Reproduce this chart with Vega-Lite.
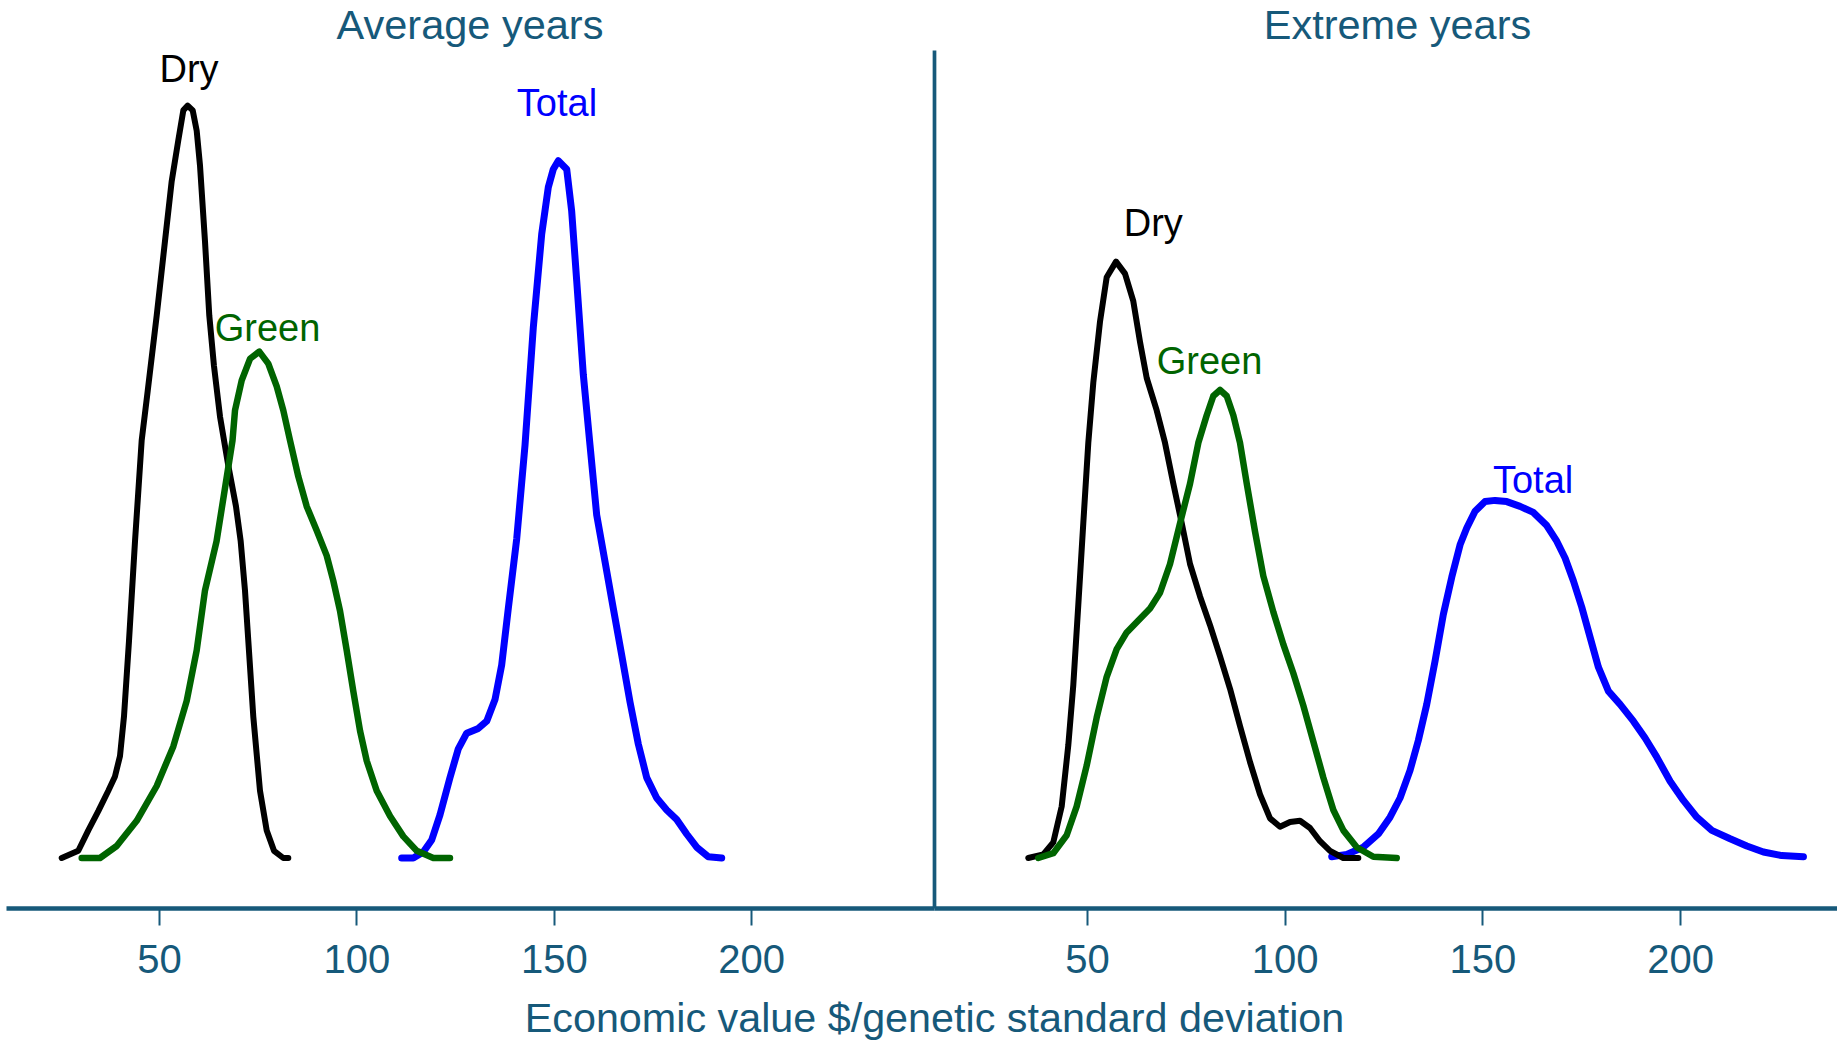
{
  "$schema": "https://vega.github.io/schema/vega-lite/v6.json",
  "padding": {"left": 6, "top": 5, "right": 0, "bottom": 0},
  "bounds": "flush",
  "spacing": 0,
  "config": {
    "view": {"stroke": null},
    "font": "Liberation Sans",
    "title": {
      "font": "Liberation Sans",
      "fontSize": 41.5,
      "fontWeight": "normal",
      "color": "#16597a",
      "anchor": "middle",
      "baseline": "alphabetic",
      "offset": 3
    },
    "axis": {
      "grid": false,
      "domainColor": "#16597a",
      "tickColor": "#16597a",
      "labelColor": "#16597a",
      "titleColor": "#16597a",
      "labelFont": "Liberation Sans",
      "titleFont": "Liberation Sans",
      "titleFontWeight": "normal"
    }
  },
  "datasets": {
    "curves": [
      {"panel": "Average", "series": "Dry", "value": 25.39, "density": 0},
      {"panel": "Average", "series": "Dry", "value": 29.59, "density": 0.0006},
      {"panel": "Average", "series": "Dry", "value": 32.12, "density": 0.0023},
      {"panel": "Average", "series": "Dry", "value": 34.65, "density": 0.0039},
      {"panel": "Average", "series": "Dry", "value": 37.19, "density": 0.0056},
      {"panel": "Average", "series": "Dry", "value": 38.88, "density": 0.0068},
      {"panel": "Average", "series": "Dry", "value": 40.15, "density": 0.0085},
      {"panel": "Average", "series": "Dry", "value": 41.16, "density": 0.0118},
      {"panel": "Average", "series": "Dry", "value": 42.43, "density": 0.0181},
      {"panel": "Average", "series": "Dry", "value": 43.95, "density": 0.0264},
      {"panel": "Average", "series": "Dry", "value": 45.64, "density": 0.0348},
      {"panel": "Average", "series": "Dry", "value": 47.16, "density": 0.0389},
      {"panel": "Average", "series": "Dry", "value": 49.44, "density": 0.0452},
      {"panel": "Average", "series": "Dry", "value": 51.54, "density": 0.0514},
      {"panel": "Average", "series": "Dry", "value": 53.24, "density": 0.0564},
      {"panel": "Average", "series": "Dry", "value": 54.91, "density": 0.0598},
      {"panel": "Average", "series": "Dry", "value": 56.18, "density": 0.0623},
      {"panel": "Average", "series": "Dry", "value": 57.29, "density": 0.0627},
      {"panel": "Average", "series": "Dry", "value": 58.56, "density": 0.0623},
      {"panel": "Average", "series": "Dry", "value": 59.57, "density": 0.0606},
      {"panel": "Average", "series": "Dry", "value": 60.41, "density": 0.0577},
      {"panel": "Average", "series": "Dry", "value": 61.67, "density": 0.0514},
      {"panel": "Average", "series": "Dry", "value": 62.76, "density": 0.0452},
      {"panel": "Average", "series": "Dry", "value": 63.95, "density": 0.041},
      {"panel": "Average", "series": "Dry", "value": 65.47, "density": 0.0368},
      {"panel": "Average", "series": "Dry", "value": 67.57, "density": 0.0327},
      {"panel": "Average", "series": "Dry", "value": 69.52, "density": 0.0293},
      {"panel": "Average", "series": "Dry", "value": 70.71, "density": 0.0264},
      {"panel": "Average", "series": "Dry", "value": 71.8, "density": 0.0223},
      {"panel": "Average", "series": "Dry", "value": 72.64, "density": 0.0181},
      {"panel": "Average", "series": "Dry", "value": 73.9, "density": 0.0118},
      {"panel": "Average", "series": "Dry", "value": 75.6, "density": 0.0056},
      {"panel": "Average", "series": "Dry", "value": 77.3, "density": 0.0023},
      {"panel": "Average", "series": "Dry", "value": 79.15, "density": 0.0006},
      {"panel": "Average", "series": "Dry", "value": 81.5, "density": 0},
      {"panel": "Average", "series": "Dry", "value": 82.77, "density": 0},

      {"panel": "Average", "series": "Green", "value": 30.45, "density": 0},
      {"panel": "Average", "series": "Green", "value": 35.08, "density": 0},
      {"panel": "Average", "series": "Green", "value": 39.31, "density": 0.001},
      {"panel": "Average", "series": "Green", "value": 44.38, "density": 0.0031},
      {"panel": "Average", "series": "Green", "value": 49.44, "density": 0.006},
      {"panel": "Average", "series": "Green", "value": 53.65, "density": 0.0093},
      {"panel": "Average", "series": "Green", "value": 57.04, "density": 0.0131},
      {"panel": "Average", "series": "Green", "value": 59.57, "density": 0.0173},
      {"panel": "Average", "series": "Green", "value": 61.67, "density": 0.0223},
      {"panel": "Average", "series": "Green", "value": 64.6, "density": 0.0264},
      {"panel": "Average", "series": "Green", "value": 66.63, "density": 0.0306},
      {"panel": "Average", "series": "Green", "value": 68.64, "density": 0.0348},
      {"panel": "Average", "series": "Green", "value": 69.27, "density": 0.0373},
      {"panel": "Average", "series": "Green", "value": 70.97, "density": 0.0398},
      {"panel": "Average", "series": "Green", "value": 73.07, "density": 0.0416},
      {"panel": "Average", "series": "Green", "value": 75.42, "density": 0.0422},
      {"panel": "Average", "series": "Green", "value": 77.7, "density": 0.0412},
      {"panel": "Average", "series": "Green", "value": 79.83, "density": 0.0393},
      {"panel": "Average", "series": "Green", "value": 81.5, "density": 0.0373},
      {"panel": "Average", "series": "Green", "value": 83.2, "density": 0.0348},
      {"panel": "Average", "series": "Green", "value": 85.3, "density": 0.0318},
      {"panel": "Average", "series": "Green", "value": 87.43, "density": 0.0293},
      {"panel": "Average", "series": "Green", "value": 89.96, "density": 0.0273},
      {"panel": "Average", "series": "Green", "value": 92.49, "density": 0.0252},
      {"panel": "Average", "series": "Green", "value": 94.16, "density": 0.0231},
      {"panel": "Average", "series": "Green", "value": 95.86, "density": 0.0206},
      {"panel": "Average", "series": "Green", "value": 97.56, "density": 0.0173},
      {"panel": "Average", "series": "Green", "value": 99.23, "density": 0.0139},
      {"panel": "Average", "series": "Green", "value": 100.93, "density": 0.0106},
      {"panel": "Average", "series": "Green", "value": 102.62, "density": 0.0081},
      {"panel": "Average", "series": "Green", "value": 105.15, "density": 0.0056},
      {"panel": "Average", "series": "Green", "value": 108.52, "density": 0.0035},
      {"panel": "Average", "series": "Green", "value": 111.89, "density": 0.0018},
      {"panel": "Average", "series": "Green", "value": 115.28, "density": 0.0006},
      {"panel": "Average", "series": "Green", "value": 119.49, "density": 0},
      {"panel": "Average", "series": "Green", "value": 123.71, "density": 0},

      {"panel": "Average", "series": "Total", "value": 111.48, "density": 0},
      {"panel": "Average", "series": "Total", "value": 114.42, "density": 0},
      {"panel": "Average", "series": "Total", "value": 116.95, "density": 0.0005},
      {"panel": "Average", "series": "Total", "value": 119.08, "density": 0.0015},
      {"panel": "Average", "series": "Total", "value": 121.18, "density": 0.0036},
      {"panel": "Average", "series": "Total", "value": 123.71, "density": 0.0067},
      {"panel": "Average", "series": "Total", "value": 125.82, "density": 0.0091},
      {"panel": "Average", "series": "Total", "value": 127.94, "density": 0.0104},
      {"panel": "Average", "series": "Total", "value": 130.88, "density": 0.0108},
      {"panel": "Average", "series": "Total", "value": 133.01, "density": 0.0114},
      {"panel": "Average", "series": "Total", "value": 135.11, "density": 0.0132},
      {"panel": "Average", "series": "Total", "value": 136.81, "density": 0.0161},
      {"panel": "Average", "series": "Total", "value": 138.48, "density": 0.0208},
      {"panel": "Average", "series": "Total", "value": 140.61, "density": 0.0266},
      {"panel": "Average", "series": "Total", "value": 142.71, "density": 0.0344},
      {"panel": "Average", "series": "Total", "value": 144.81, "density": 0.0442},
      {"panel": "Average", "series": "Total", "value": 146.94, "density": 0.052},
      {"panel": "Average", "series": "Total", "value": 148.61, "density": 0.0559},
      {"panel": "Average", "series": "Total", "value": 149.87, "density": 0.0574},
      {"panel": "Average", "series": "Total", "value": 151.14, "density": 0.0581},
      {"panel": "Average", "series": "Total", "value": 153.27, "density": 0.0574},
      {"panel": "Average", "series": "Total", "value": 154.53, "density": 0.0539},
      {"panel": "Average", "series": "Total", "value": 155.8, "density": 0.0481},
      {"panel": "Average", "series": "Total", "value": 157.47, "density": 0.0403},
      {"panel": "Average", "series": "Total", "value": 159.17, "density": 0.0344},
      {"panel": "Average", "series": "Total", "value": 160.86, "density": 0.0286},
      {"panel": "Average", "series": "Total", "value": 162.97, "density": 0.0247},
      {"panel": "Average", "series": "Total", "value": 165.07, "density": 0.0208},
      {"panel": "Average", "series": "Total", "value": 167.2, "density": 0.0169},
      {"panel": "Average", "series": "Total", "value": 169.3, "density": 0.013},
      {"panel": "Average", "series": "Total", "value": 171.4, "density": 0.0095},
      {"panel": "Average", "series": "Total", "value": 173.53, "density": 0.0067},
      {"panel": "Average", "series": "Total", "value": 176.06, "density": 0.005},
      {"panel": "Average", "series": "Total", "value": 178.59, "density": 0.004},
      {"panel": "Average", "series": "Total", "value": 181.12, "density": 0.0032},
      {"panel": "Average", "series": "Total", "value": 183.65, "density": 0.002},
      {"panel": "Average", "series": "Total", "value": 186.19, "density": 0.0009},
      {"panel": "Average", "series": "Total", "value": 189.12, "density": 0.0001},
      {"panel": "Average", "series": "Total", "value": 192.52, "density": 0},

      {"panel": "Extreme", "series": "Dry", "value": 35.15, "density": 0},
      {"panel": "Extreme", "series": "Dry", "value": 38.95, "density": 0.0003},
      {"panel": "Extreme", "series": "Dry", "value": 41.47, "density": 0.0013},
      {"panel": "Extreme", "series": "Dry", "value": 43.6, "density": 0.0043},
      {"panel": "Extreme", "series": "Dry", "value": 45.27, "density": 0.0094},
      {"panel": "Extreme", "series": "Dry", "value": 46.53, "density": 0.0144},
      {"panel": "Extreme", "series": "Dry", "value": 47.8, "density": 0.0211},
      {"panel": "Extreme", "series": "Dry", "value": 49.06, "density": 0.0279},
      {"panel": "Extreme", "series": "Dry", "value": 50.33, "density": 0.0346},
      {"panel": "Extreme", "series": "Dry", "value": 51.59, "density": 0.0396},
      {"panel": "Extreme", "series": "Dry", "value": 53.29, "density": 0.0447},
      {"panel": "Extreme", "series": "Dry", "value": 54.98, "density": 0.0484},
      {"panel": "Extreme", "series": "Dry", "value": 57.34, "density": 0.0497},
      {"panel": "Extreme", "series": "Dry", "value": 59.61, "density": 0.0487},
      {"panel": "Extreme", "series": "Dry", "value": 61.71, "density": 0.0464},
      {"panel": "Extreme", "series": "Dry", "value": 63.41, "density": 0.043},
      {"panel": "Extreme", "series": "Dry", "value": 65.1, "density": 0.04},
      {"panel": "Extreme", "series": "Dry", "value": 67.63, "density": 0.0373},
      {"panel": "Extreme", "series": "Dry", "value": 69.73, "density": 0.0346},
      {"panel": "Extreme", "series": "Dry", "value": 71.83, "density": 0.0312},
      {"panel": "Extreme", "series": "Dry", "value": 73.96, "density": 0.0279},
      {"panel": "Extreme", "series": "Dry", "value": 76.06, "density": 0.0245},
      {"panel": "Extreme", "series": "Dry", "value": 78.59, "density": 0.0218},
      {"panel": "Extreme", "series": "Dry", "value": 81.12, "density": 0.0194},
      {"panel": "Extreme", "series": "Dry", "value": 83.65, "density": 0.0168},
      {"panel": "Extreme", "series": "Dry", "value": 86.18, "density": 0.0141},
      {"panel": "Extreme", "series": "Dry", "value": 88.7, "density": 0.011},
      {"panel": "Extreme", "series": "Dry", "value": 91.23, "density": 0.008},
      {"panel": "Extreme", "series": "Dry", "value": 93.76, "density": 0.0053},
      {"panel": "Extreme", "series": "Dry", "value": 96.29, "density": 0.0033},
      {"panel": "Extreme", "series": "Dry", "value": 98.82, "density": 0.0026},
      {"panel": "Extreme", "series": "Dry", "value": 101.35, "density": 0.003},
      {"panel": "Extreme", "series": "Dry", "value": 103.88, "density": 0.0031},
      {"panel": "Extreme", "series": "Dry", "value": 106.41, "density": 0.0025},
      {"panel": "Extreme", "series": "Dry", "value": 108.94, "density": 0.0014},
      {"panel": "Extreme", "series": "Dry", "value": 111.47, "density": 0.0006},
      {"panel": "Extreme", "series": "Dry", "value": 114.84, "density": 0},
      {"panel": "Extreme", "series": "Dry", "value": 118.63, "density": 0},

      {"panel": "Extreme", "series": "Green", "value": 37.68, "density": 0},
      {"panel": "Extreme", "series": "Green", "value": 41.47, "density": 0.0004},
      {"panel": "Extreme", "series": "Green", "value": 44.86, "density": 0.0019},
      {"panel": "Extreme", "series": "Green", "value": 47.39, "density": 0.0043},
      {"panel": "Extreme", "series": "Green", "value": 49.92, "density": 0.0077},
      {"panel": "Extreme", "series": "Green", "value": 52.45, "density": 0.0117},
      {"panel": "Extreme", "series": "Green", "value": 54.98, "density": 0.0151},
      {"panel": "Extreme", "series": "Green", "value": 57.51, "density": 0.0174},
      {"panel": "Extreme", "series": "Green", "value": 60.04, "density": 0.0188},
      {"panel": "Extreme", "series": "Green", "value": 62.98, "density": 0.0198},
      {"panel": "Extreme", "series": "Green", "value": 65.94, "density": 0.0208},
      {"panel": "Extreme", "series": "Green", "value": 68.47, "density": 0.0221},
      {"panel": "Extreme", "series": "Green", "value": 71.0, "density": 0.0245},
      {"panel": "Extreme", "series": "Green", "value": 73.53, "density": 0.0279},
      {"panel": "Extreme", "series": "Green", "value": 76.06, "density": 0.0312},
      {"panel": "Extreme", "series": "Green", "value": 78.16, "density": 0.0346},
      {"panel": "Extreme", "series": "Green", "value": 80.28, "density": 0.0369},
      {"panel": "Extreme", "series": "Green", "value": 81.95, "density": 0.0385},
      {"panel": "Extreme", "series": "Green", "value": 83.65, "density": 0.039},
      {"panel": "Extreme", "series": "Green", "value": 85.34, "density": 0.0385},
      {"panel": "Extreme", "series": "Green", "value": 87.01, "density": 0.0369},
      {"panel": "Extreme", "series": "Green", "value": 88.7, "density": 0.0346},
      {"panel": "Extreme", "series": "Green", "value": 90.4, "density": 0.0312},
      {"panel": "Extreme", "series": "Green", "value": 92.5, "density": 0.0272},
      {"panel": "Extreme", "series": "Green", "value": 94.6, "density": 0.0235},
      {"panel": "Extreme", "series": "Green", "value": 97.13, "density": 0.0205},
      {"panel": "Extreme", "series": "Green", "value": 99.66, "density": 0.0178},
      {"panel": "Extreme", "series": "Green", "value": 102.19, "density": 0.0154},
      {"panel": "Extreme", "series": "Green", "value": 104.72, "density": 0.0127},
      {"panel": "Extreme", "series": "Green", "value": 107.25, "density": 0.0097},
      {"panel": "Extreme", "series": "Green", "value": 109.78, "density": 0.0067},
      {"panel": "Extreme", "series": "Green", "value": 112.31, "density": 0.004},
      {"panel": "Extreme", "series": "Green", "value": 114.84, "density": 0.0023},
      {"panel": "Extreme", "series": "Green", "value": 118.23, "density": 0.0009},
      {"panel": "Extreme", "series": "Green", "value": 122.43, "density": 0.0001},
      {"panel": "Extreme", "series": "Green", "value": 128.34, "density": 0},

      {"panel": "Extreme", "series": "Total", "value": 111.9, "density": 0.0001},
      {"panel": "Extreme", "series": "Total", "value": 115.7, "density": 0.0003},
      {"panel": "Extreme", "series": "Total", "value": 119.9, "density": 0.0009},
      {"panel": "Extreme", "series": "Total", "value": 123.69, "density": 0.002},
      {"panel": "Extreme", "series": "Total", "value": 126.65, "density": 0.0034},
      {"panel": "Extreme", "series": "Total", "value": 129.18, "density": 0.005},
      {"panel": "Extreme", "series": "Total", "value": 131.71, "density": 0.0073},
      {"panel": "Extreme", "series": "Total", "value": 133.81, "density": 0.0098},
      {"panel": "Extreme", "series": "Total", "value": 135.93, "density": 0.0128},
      {"panel": "Extreme", "series": "Total", "value": 138.03, "density": 0.0164},
      {"panel": "Extreme", "series": "Total", "value": 140.13, "density": 0.0203},
      {"panel": "Extreme", "series": "Total", "value": 142.26, "density": 0.0234},
      {"panel": "Extreme", "series": "Total", "value": 144.36, "density": 0.0261},
      {"panel": "Extreme", "series": "Total", "value": 146.05, "density": 0.0275},
      {"panel": "Extreme", "series": "Total", "value": 148.15, "density": 0.0289},
      {"panel": "Extreme", "series": "Total", "value": 150.68, "density": 0.0297},
      {"panel": "Extreme", "series": "Total", "value": 153.21, "density": 0.0298},
      {"panel": "Extreme", "series": "Total", "value": 156.17, "density": 0.0297},
      {"panel": "Extreme", "series": "Total", "value": 159.54, "density": 0.0293},
      {"panel": "Extreme", "series": "Total", "value": 162.9, "density": 0.0288},
      {"panel": "Extreme", "series": "Total", "value": 166.29, "density": 0.0277},
      {"panel": "Extreme", "series": "Total", "value": 168.82, "density": 0.0264},
      {"panel": "Extreme", "series": "Total", "value": 170.92, "density": 0.025},
      {"panel": "Extreme", "series": "Total", "value": 173.02, "density": 0.0231},
      {"panel": "Extreme", "series": "Total", "value": 175.15, "density": 0.0209},
      {"panel": "Extreme", "series": "Total", "value": 177.25, "density": 0.0184},
      {"panel": "Extreme", "series": "Total", "value": 179.35, "density": 0.0159},
      {"panel": "Extreme", "series": "Total", "value": 181.88, "density": 0.0139},
      {"panel": "Extreme", "series": "Total", "value": 184.84, "density": 0.0128},
      {"panel": "Extreme", "series": "Total", "value": 188.2, "density": 0.0114},
      {"panel": "Extreme", "series": "Total", "value": 191.16, "density": 0.01},
      {"panel": "Extreme", "series": "Total", "value": 194.12, "density": 0.0084},
      {"panel": "Extreme", "series": "Total", "value": 197.49, "density": 0.0064},
      {"panel": "Extreme", "series": "Total", "value": 200.85, "density": 0.0048},
      {"panel": "Extreme", "series": "Total", "value": 204.24, "density": 0.0034},
      {"panel": "Extreme", "series": "Total", "value": 208.04, "density": 0.0023},
      {"panel": "Extreme", "series": "Total", "value": 212.67, "density": 0.0016},
      {"panel": "Extreme", "series": "Total", "value": 216.89, "density": 0.001},
      {"panel": "Extreme", "series": "Total", "value": 221.09, "density": 0.0005},
      {"panel": "Extreme", "series": "Total", "value": 225.74, "density": 0.0002},
      {"panel": "Extreme", "series": "Total", "value": 231.21, "density": 0.0001}
    ],
    "labels": [
      {"panel": "Average", "series": "Dry", "value": 57.62, "density": 0.0647},
      {"panel": "Average", "series": "Green", "value": 77.5, "density": 0.0431},
      {"panel": "Average", "series": "Total", "value": 150.81, "density": 0.0618},
      {"panel": "Extreme", "series": "Dry", "value": 66.77, "density": 0.0518},
      {"panel": "Extreme", "series": "Green", "value": 80.99, "density": 0.0403},
      {"panel": "Extreme", "series": "Total", "value": 162.83, "density": 0.0304}
    ]
  },
  "hconcat": [
    {
      "width": 928,
      "height": 858,
      "title": {"text": "Average years"},
      "encoding": {
        "x": {
          "field": "value",
          "type": "quantitative",
          "scale": {"domain": [11.28, 246.28], "nice": false, "zero": false},
          "axis": {
            "values": [50, 100, 150, 200],
            "title": null,
            "domainWidth": 4.7,
            "tickWidth": 2,
            "tickSize": 17,
            "labelFontSize": 40,
            "labelBaseline": "alphabetic",
            "labelPadding": 47,
            "labelFlush": false,
            "labelOverlap": false
          }
        },
        "y": {
          "field": "density",
          "type": "quantitative",
          "scale": {"domain": [-0.004167, 0.067333], "nice": false, "zero": false},
          "axis": null
        }
      },
      "layer": [
        {
          "data": {"name": "curves"},
          "transform": [{"filter": "datum.panel === 'Average' && datum.series === 'Total'"}],
          "mark": {"type": "line", "color": "#0000ff", "strokeWidth": 7, "strokeCap": "round", "strokeJoin": "round"}
        },
        {
          "data": {"name": "curves"},
          "transform": [{"filter": "datum.panel === 'Average' && datum.series === 'Dry'"}],
          "mark": {"type": "line", "color": "#000000", "strokeWidth": 6, "strokeCap": "round", "strokeJoin": "round"}
        },
        {
          "data": {"name": "curves"},
          "transform": [{"filter": "datum.panel === 'Average' && datum.series === 'Green'"}],
          "mark": {"type": "line", "color": "#006400", "strokeWidth": 6.5, "strokeCap": "round", "strokeJoin": "round"}
        },
        {
          "data": {"name": "labels"},
          "transform": [{"filter": "datum.panel === 'Average'"}],
          "mark": {"type": "text", "align": "center", "baseline": "alphabetic", "fontSize": 38, "font": "Liberation Sans"},
          "encoding": {
            "text": {"field": "series"},
            "color": {
              "field": "series",
              "type": "nominal",
              "scale": {"domain": ["Dry", "Green", "Total"], "range": ["#000000", "#006400", "#0000ff"]},
              "legend": null
            }
          }
        }
      ]
    },
    {
      "width": 903,
      "height": 858,
      "title": {"text": "Extreme years", "dx": 12},
      "encoding": {
        "x": {
          "field": "value",
          "type": "quantitative",
          "scale": {"domain": [11.3, 239.7], "nice": false, "zero": false},
          "axis": {
            "values": [50, 100, 150, 200],
            "title": "Economic value $/genetic standard deviation",
            "titleFontSize": 41.3,
            "titleX": 0,
            "titleY": 123,
            "titleAlign": "center",
            "titleAnchor": null,
            "titleBaseline": "alphabetic",
            "domainWidth": 4.7,
            "tickWidth": 2,
            "tickSize": 17,
            "labelFontSize": 40,
            "labelBaseline": "alphabetic",
            "labelPadding": 47,
            "labelFlush": false,
            "labelOverlap": false
          }
        },
        "y": {
          "field": "density",
          "type": "quantitative",
          "scale": {"domain": [-0.004167, 0.067333], "nice": false, "zero": false},
          "axis": {
            "domain": true,
            "domainWidth": 3.7,
            "ticks": false,
            "labels": false,
            "title": null,
            "grid": false
          }
        }
      },
      "layer": [
        {
          "data": {"name": "curves"},
          "transform": [{"filter": "datum.panel === 'Extreme' && datum.series === 'Total'"}],
          "mark": {"type": "line", "color": "#0000ff", "strokeWidth": 7, "strokeCap": "round", "strokeJoin": "round"}
        },
        {
          "data": {"name": "curves"},
          "transform": [{"filter": "datum.panel === 'Extreme' && datum.series === 'Dry'"}],
          "mark": {"type": "line", "color": "#000000", "strokeWidth": 6, "strokeCap": "round", "strokeJoin": "round"}
        },
        {
          "data": {"name": "curves"},
          "transform": [{"filter": "datum.panel === 'Extreme' && datum.series === 'Green'"}],
          "mark": {"type": "line", "color": "#006400", "strokeWidth": 6.5, "strokeCap": "round", "strokeJoin": "round"}
        },
        {
          "data": {"name": "labels"},
          "transform": [{"filter": "datum.panel === 'Extreme'"}],
          "mark": {"type": "text", "align": "center", "baseline": "alphabetic", "fontSize": 38, "font": "Liberation Sans"},
          "encoding": {
            "text": {"field": "series"},
            "color": {
              "field": "series",
              "type": "nominal",
              "scale": {"domain": ["Dry", "Green", "Total"], "range": ["#000000", "#006400", "#0000ff"]},
              "legend": null
            }
          }
        }
      ]
    }
  ]
}
